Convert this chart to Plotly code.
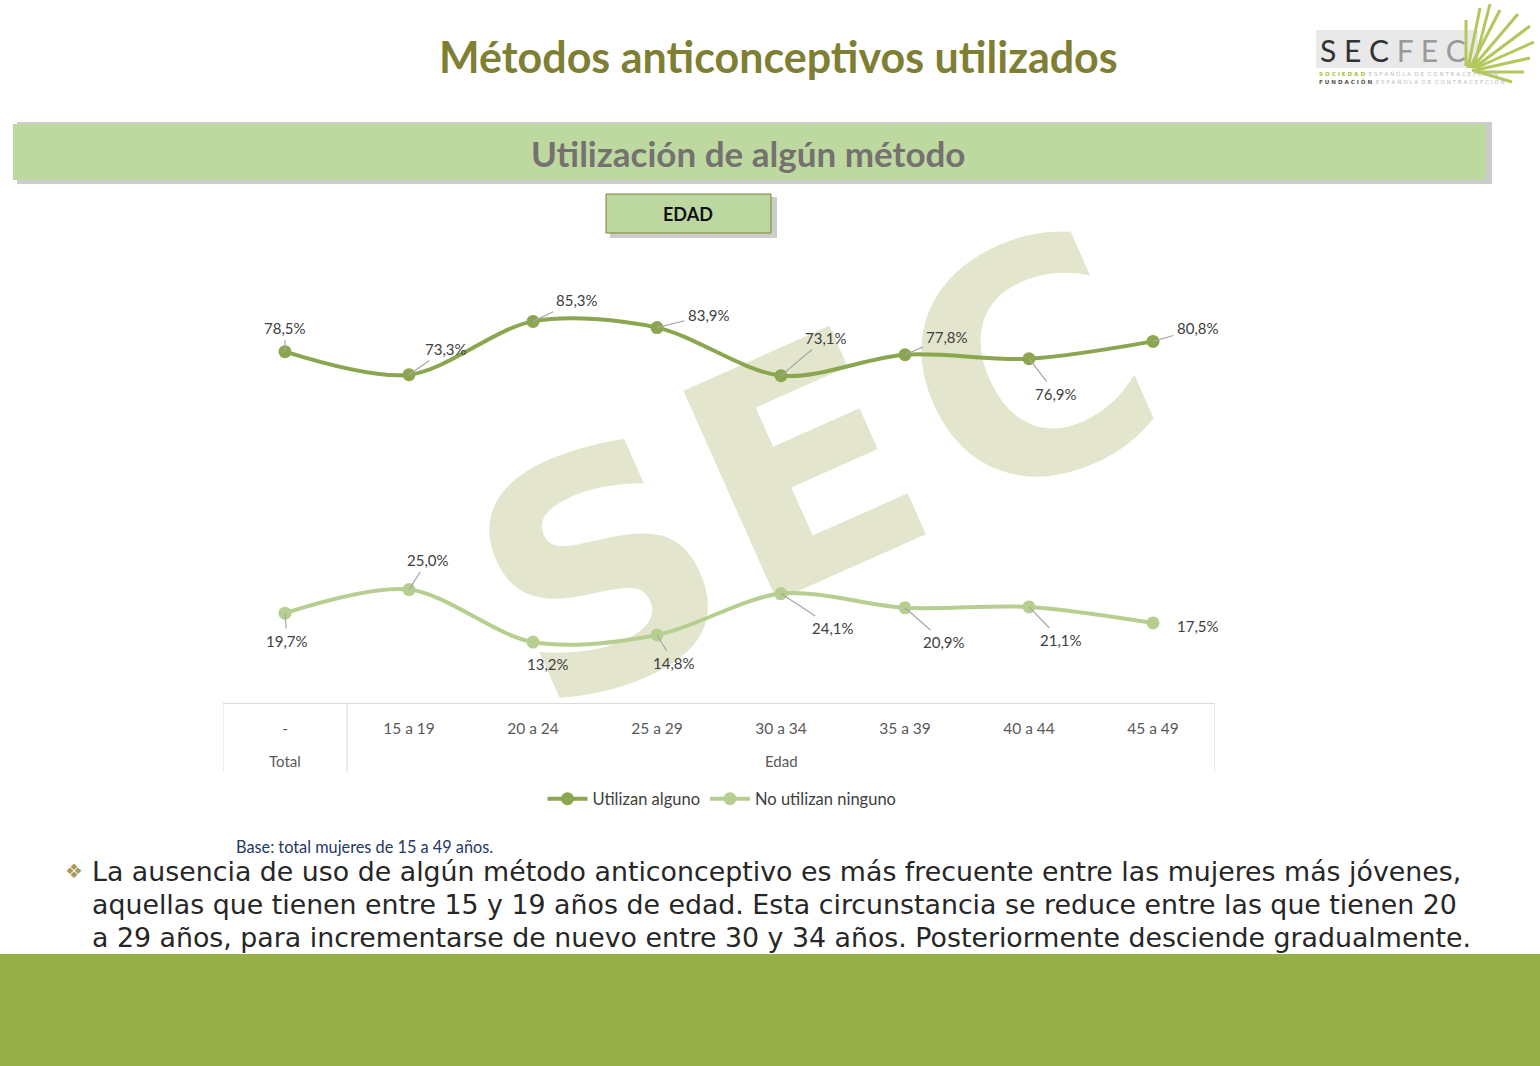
import plotly.graph_objects as go

# ---------------- data ----------------
group_labels = ["Total", "Edad", "Edad", "Edad", "Edad", "Edad", "Edad", "Edad"]
age_groups = ["-", "15 a 19", "20 a 24", "25 a 29", "30 a 34", "35 a 39", "40 a 44", "45 a 49"]
utilizan_alguno = [78.5, 73.3, 85.3, 83.9, 73.1, 77.8, 76.9, 80.8]
no_utilizan_ninguno = [19.7, 25.0, 13.2, 14.8, 24.1, 20.9, 21.1, 17.5]
series_names = ["Utilizan alguno", "No utilizan ninguno"]

title_text = "Métodos anticonceptivos utilizados"
banner_text = "Utilización de algún método"
box_text = "EDAD"
base_text = "Base: total mujeres de 15 a 49 años."
bullet_lines = [
    "La ausencia de uso de algún método anticonceptivo es más frecuente entre las mujeres más jóvenes,",
    "aquellas que tienen entre 15 y 19 años de edad. Esta circunstancia se reduce entre las que tienen 20",
    "a 29 años, para incrementarse de nuevo entre 30 y 34 años. Posteriormente desciende gradualmente.",
]

# ---------------- style ----------------
W, H = 1540, 1066
dark_green = "#8aa64f"
light_green = "#b6cf91"
label_color = "#404040"
leader_color = "#a6a6a6"
axis_grey = "#d9d9d9"

# label offsets in pixels (style only)
off_top = [(0, -24), (37, -26), (44, -21), (52, -13), (45, -38), (42, -18), (27, 35), (45, -13)]
off_bot = [(2, 28), (19, -30), (15, 22), (17, 28), (52, 34), (39, 34), (32, 33), (45, 3)]
arrow_top = [True] * 8
arrow_bot = [True, True, False, True, True, True, True, False]


def px(x):
    return x / W


def py(y):
    return 1 - y / H


def fmt(v):
    return f"{v:.1f}%".replace(".", ",")


def ptext(x, y, text, size, color, family="Lato", xanchor="center", yanchor="middle", **kw):
    return dict(x=px(x), y=py(y), xref="paper", yref="paper", text=text, showarrow=False,
                xanchor=xanchor, yanchor=yanchor, font=dict(family=family, size=size, color=color), **kw)


fig = go.Figure()
fig.add_trace(go.Scatter(
    x=age_groups, y=utilizan_alguno, name=series_names[0],
    mode="lines+markers", line=dict(color=dark_green, width=4, shape="spline", smoothing=0.9),
    marker=dict(size=13, color=dark_green), hoverinfo="skip"))
fig.add_trace(go.Scatter(
    x=age_groups, y=no_utilizan_ninguno, name=series_names[1],
    mode="lines+markers", line=dict(color=light_green, width=4, shape="spline", smoothing=0.9),
    marker=dict(size=13, color=light_green), hoverinfo="skip"))

annotations = []
for series, offs, arrs in [(utilizan_alguno, off_top, arrow_top), (no_utilizan_ninguno, off_bot, arrow_bot)]:
    for i, v in enumerate(series):
        ax, ay = offs[i]
        annotations.append(dict(
            x=i, y=v, xref="x", yref="y", text=fmt(v),
            showarrow=True, arrowhead=0, arrowwidth=1.2,
            arrowcolor=leader_color if arrs[i] else "rgba(0,0,0,0)",
            ax=ax, ay=ay, standoff=0, startstandoff=2,
            font=dict(family="Lato", size=15, color=label_color)))

# outer category row (group labels), centred under their groups
groups = []
for i, g in enumerate(group_labels):
    if groups and groups[-1][0] == g:
        groups[-1][2] = i
    else:
        groups.append([g, i, i])
for g, i0, i1 in groups:
    annotations.append(dict(x=(i0 + i1) / 2, y=py(761), xref="x", yref="paper", text=g, showarrow=False,
                            xanchor="center", yanchor="middle",
                            font=dict(family="Lato", size=15, color="#595959")))

# titles and texts
annotations += [
    ptext(778, 57, f"<b>{title_text}</b>", 43, "#7f7f33"),
    ptext(748, 153, f"<b>{banner_text}</b>", 35, "#767171"),
    ptext(688, 214, f"<b>{box_text}</b>", 18, "#111111"),
    ptext(234, 846, base_text, 16.3, "#1f3864", xanchor="left"),
    ptext(74, 871, "❖", 20, "#a8995a", family="DejaVu Sans"),
]
for k, line in enumerate(bullet_lines):
    annotations.append(ptext(90, 871 + 33.5 * k, line, 26.8, "#262626", family="DejaVu Sans", xanchor="left"))

# logo text
annotations += [
    ptext(1318, 50, "<span style='color:#333333'>S E C </span><span style='color:#9a9a9a'>F E C</span>",
          30, "#333333", xanchor="left"),
    ptext(1317, 74, "<span style='color:#a9bf3f'><b>S O C I E D A D</b></span>  E S P A Ñ O L A  D E  C O N T R A C E P C I Ó N",
          5.6, "#bbbbbb", family="DejaVu Sans", xanchor="left"),
    ptext(1317, 82, "<span style='color:#555555'><b>F U N D A C I Ó N</b></span>  E S P A Ñ O L A  D E  C O N T R A C E P C I Ó N",
          5.6, "#bbbbbb", family="DejaVu Sans", xanchor="left"),
]

shapes = []
# watermark letters (below traces)
wm_color = "#e3e6cc"
for letter, cx, cy in [("S", 592, 552), ("E", 795, 448), ("C", 1018, 348)]:
    shapes.append(dict(type="rect", xref="paper", yref="paper", x0=px(cx - 10), x1=px(cx + 10),
                       y0=py(cy + 10), y1=py(cy - 10), line=dict(width=0), fillcolor="rgba(0,0,0,0)",
                       layer="below",
                       label=dict(text=letter, textangle=-24, textposition="middle center",
                                  font=dict(family="DejaVu Sans", size=315, color=wm_color,
                                            weight="bold"))))
# banner shadow + banner
shapes.append(dict(type="rect", xref="paper", yref="paper", x0=px(17), x1=px(1492), y0=py(184), y1=py(122),
                   line=dict(width=0), fillcolor="#cccccc", layer="below"))
shapes.append(dict(type="rect", xref="paper", yref="paper", x0=px(13), x1=px(1486), y0=py(180), y1=py(124),
                   line=dict(width=0), fillcolor="#bdd9a0", layer="below"))
# EDAD box shadow + box
shapes.append(dict(type="rect", xref="paper", yref="paper", x0=px(610), x1=px(777), y0=py(238), y1=py(197),
                   line=dict(width=0), fillcolor="#cccccc", layer="below"))
shapes.append(dict(type="rect", xref="paper", yref="paper", x0=px(606), x1=px(771), y0=py(233), y1=py(194),
                   line=dict(width=1, color="#7f7f33"), fillcolor="#bdd7a0", layer="below"))
# footer band
shapes.append(dict(type="rect", xref="paper", yref="paper", x0=0, x1=1, y0=0, y1=py(954),
                   line=dict(width=0), fillcolor="#97af47", layer="below"))
# logo background
shapes.append(dict(type="rect", xref="paper", yref="paper", x0=px(1316), x1=px(1478), y0=py(68), y1=py(30),
                   line=dict(width=0), fillcolor="#e9e9e9", layer="below"))
# palm leaves (decorative)
palm = [(1468, 68, 1480, 8), (1470, 68, 1500, 10), (1472, 68, 1518, 14), (1474, 68, 1530, 26),
        (1476, 68, 1534, 42), (1476, 70, 1530, 58), (1476, 72, 1524, 72), (1474, 66, 1490, 4),
        (1466, 66, 1466, 20), (1472, 70, 1512, 82)]
for x0, y0, x1, y1 in palm:
    shapes.append(dict(type="line", xref="paper", yref="paper", x0=px(x0), y0=py(y0), x1=px(x1), y1=py(y1),
                       line=dict(color="#b3c85a", width=3)))

# category table dividers (at group boundaries)
boundaries = [-0.5] + [i1 + 0.5 for _, _, i1 in groups]
for b in boundaries:
    shapes.append(dict(type="line", xref="x", yref="paper", x0=b, x1=b, y0=py(772), y1=py(703),
                       line=dict(color=axis_grey, width=1)))

fig.update_layout(
    width=W, height=H, margin=dict(l=0, r=0, t=0, b=0),
    paper_bgcolor="white", plot_bgcolor="rgba(0,0,0,0)",
    showlegend=True,
    legend=dict(orientation="h", x=px(722), xanchor="center", y=py(799), yanchor="middle",
                font=dict(family="Lato", size=16.5, color=label_color), bgcolor="rgba(0,0,0,0)",
                itemwidth=40),
    xaxis=dict(type="category", domain=[px(223), px(1215)], range=[-0.5, 7.5],
               showline=True, linecolor=axis_grey, linewidth=1, showgrid=False, zeroline=False,
               ticks="outside", ticklen=11, tickcolor="rgba(0,0,0,0)",
               tickfont=dict(family="Lato", size=15.5, color="#595959")),
    yaxis=dict(domain=[py(703), py(256)], range=[-0.5, 100], visible=False),
    annotations=annotations,
    shapes=shapes,
)

fig.write_html("out.html", config={"displayModeBar": False},
               post_script="document.body.style.margin='0';")
